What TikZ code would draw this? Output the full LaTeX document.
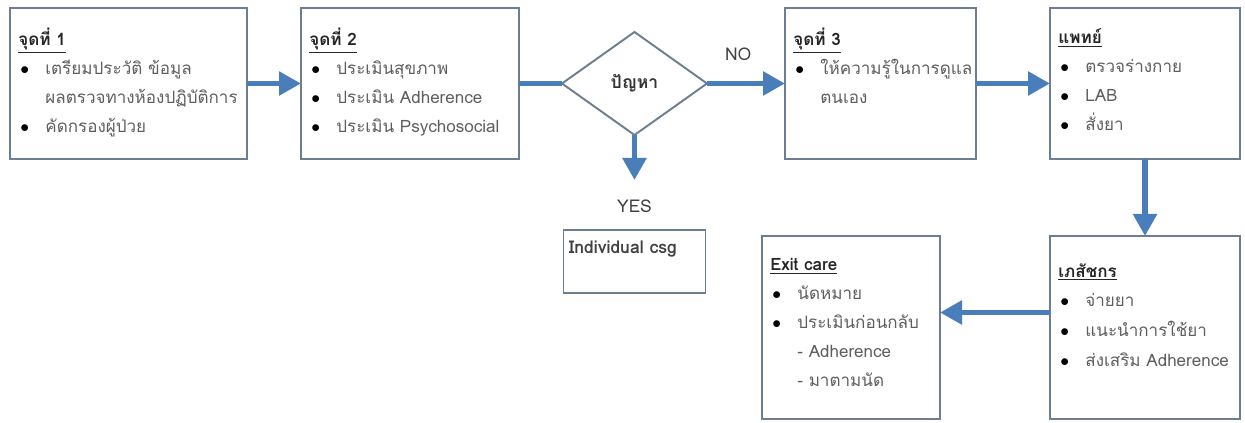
\documentclass[tikz,border=0pt]{standalone}
\usepackage{fontspec}
\setmainfont[Script=Thai]{Loma}
\usetikzlibrary{shapes.geometric,arrows.meta,positioning,calc}

\definecolor{boxline}{HTML}{6E7E92}
\definecolor{flowblue}{HTML}{4A7EBB}
\definecolor{bodytext}{HTML}{5E5E5E}

\newcommand{\bul}{\hspace*{0.04cm}\makebox[0.5cm][l]{\textcolor{black}{$\bullet$}}}
\newcommand{\ind}{\hspace*{0.54cm}}
\newcommand{\hd}[1]{\textcolor{black!85}{\underline{\textbf{#1}}}}

\begin{document}
\begin{tikzpicture}[
  stepbox/.style={rectangle, draw=boxline, line width=1.1pt, outer sep=0pt,
                  minimum width=#1, minimum height=3.02cm, inner sep=0pt},
  decision/.style={diamond, draw=boxline, line width=1.1pt, inner sep=0pt,
                   outer sep=0pt, minimum width=2.9cm, minimum height=2.06cm,
                   font=\fontsize{10}{12}\selectfont\bfseries, text=black!80},
  listtext/.style={inner sep=0pt, align=left, anchor=north west,
                   font=\fontsize{9.7}{16.5}\selectfont, text=bodytext},
  tag/.style={font=\fontsize{10}{12}\selectfont, text=black!75},
  flow/.style={draw=flowblue, line width=3.4pt,
               -{Triangle[length=0.44cm, width=0.46cm]}},
  link/.style={draw=flowblue, line width=3.4pt}
]
\useasboundingbox (0,0) rectangle (24.9,-8.46);

% boxes
\node[stepbox=4.74cm, anchor=north west] (pt1) at (0.2,-0.16) {};
\node[stepbox=4.36cm, right=1.08cm of pt1] (pt2) {};
\node[decision, right=0.86cm of pt2] (prob) {ปัญหา};
\node[stepbox=3.82cm, right=1.56cm of prob] (pt3) {};
\node[stepbox=3.8cm, right=1.48cm of pt3] (doc) {};
\node[stepbox=3.8cm, minimum height=3.66cm, below=1.54cm of doc] (pharm) {};
\node[stepbox=3.56cm, minimum height=3.66cm, left=2.2cm of pharm] (exit) {};
\node[stepbox=2.84cm, minimum height=1.26cm, below=1.9cm of prob] (csg) {};

% box texts
\node[listtext, below right=0.4cm and 0.16cm of pt1.north west] (pt1txt)
  {\hd{จุดที่ 1}\\ \bul เตรียมประวัติ ข้อมูล\\ \ind ผลตรวจทางห้องปฏิบัติการ\\ \bul คัดกรองผู้ป่วย};
\node[listtext, below right=0.4cm and 0.16cm of pt2.north west] (pt2txt)
  {\hd{จุดที่ 2}\\ \bul ประเมินสุขภาพ\\ \bul ประเมิน Adherence\\ \bul ประเมิน Psychosocial};
\node[listtext, below right=0.4cm and 0.16cm of pt3.north west] (pt3txt)
  {\hd{จุดที่ 3}\\ \bul ให้ความรู้ในการดูแล\\ \ind ตนเอง};
\node[listtext, below right=0.4cm and 0.16cm of doc.north west] (doctxt)
  {\hd{แพทย์}\\ \bul ตรวจร่างกาย\\ \bul LAB\\ \bul สั่งยา};
\node[listtext, below right=0.54cm and 0.16cm of pharm.north west,
      font=\fontsize{9.7}{17}\selectfont] (pharmtxt)
  {\hd{เภสัชกร}\\ \bul จ่ายยา\\ \bul แนะนำการใช้ยา\\ \bul ส่งเสริม Adherence};
\node[listtext, below right=0.44cm and 0.16cm of exit.north west] (exittxt)
  {\hd{Exit care}\\ \bul นัดหมาย\\ \bul ประเมินก่อนกลับ\\ \ind - Adherence\\ \ind - มาตามนัด};
\node[listtext, font=\fontsize{10}{12}\selectfont\bfseries, text=black!75,
      below right=0.22cm and 0.1cm of csg.north west] (csgtxt) {Individual csg};

% connectors
\draw[flow] (pt1) -- (pt2);
\draw[link] (pt2) -- (prob);
\draw[flow] (prob) -- (pt3);
\draw[flow] (pt3) -- (doc);
\draw[flow] (doc) -- (pharm);
\draw[flow] ($(pharm.west)+(0,0.3)$) -- ($(exit.east)+(0,0.3)$);
\coordinate (yesend) at ($(prob.south)+(0,-0.9)$);
\draw[flow] (prob) -- (yesend);

% labels
\node[tag] (nolbl) at ($(prob.east)!0.4!(pt3.west)+(0,0.58)$) {NO};
\node[tag, below=0.28cm of yesend] (yeslbl) {YES};
\end{tikzpicture}
\end{document}
